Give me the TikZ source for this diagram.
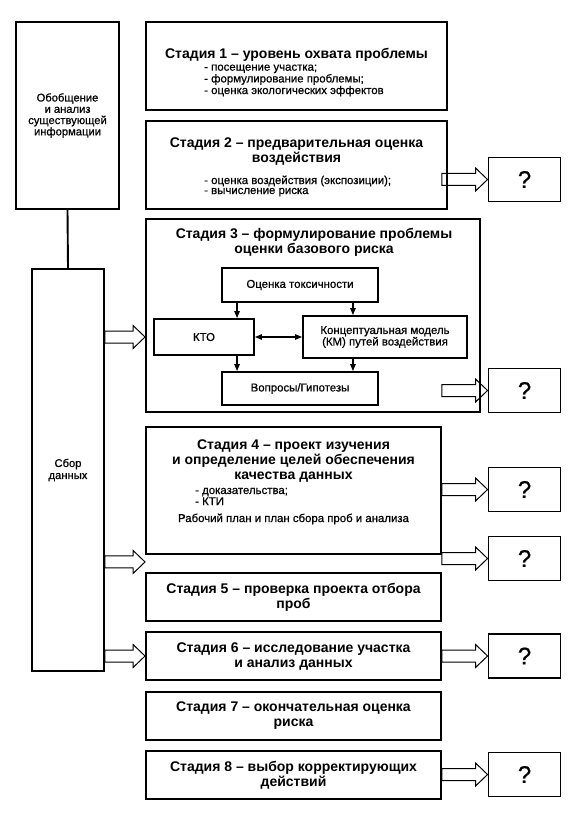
\documentclass[tikz,border=0pt]{standalone}
\usepackage{fontspec}
\setmainfont{Liberation Sans}
\newfontfamily\darkfont[FakeBold=0.7]{Liberation Sans}
\usetikzlibrary{arrows.meta,calc}
\newcommand\titlefnt{\fontsize{14}{15}\selectfont\bfseries}
\newcommand\bodyfnt{\darkfont\fontsize{11.4}{10}\selectfont}
\newcommand\qfnt{\darkfont\fontsize{24}{26}\selectfont}
\newcommand\fatarr[2]{\draw[fat] let \p1=(#1), \p2=(#2) in
  (\x1,\y1+6pt) -- (\x2-12pt,\y1+6pt) -- (\x2-12pt,\y1+11.5pt) -- (\x2,\y1)
  -- (\x2-12pt,\y1-11.5pt) -- (\x2-12pt,\y1-6pt) -- (\x1,\y1-6pt) -- cycle;}
\begin{document}
\begin{tikzpicture}[x=1pt,y=-1pt,
  box/.style={draw, line width=1.9pt, inner sep=0pt},
  stagebox/.style={box, minimum width=295pt},
  qbox/.style={box, minimum width=72pt, minimum height=44pt, font=\qfnt},
  thinarr/.style={line width=1.2pt, -{Triangle[length=7pt,width=5.5pt]}},
  fat/.style={line width=1pt, line join=miter},
  txt/.style={inner sep=0pt, align=center},
]
\useasboundingbox (0,0) rectangle (571,813);
% left column
\node[box, minimum width=103pt, minimum height=187pt, align=center, font=\darkfont\fontsize{11.2}{11.3}\selectfont] (info) at (67.5,115.5) {Обобщение\\и анализ\\существующей\\информации};
\node[box, minimum width=72pt, minimum height=402pt, align=center, font=\darkfont\fontsize{11.2}{12}\selectfont] (sbor) at (68,470) {Сбор\\данных};
\draw[line width=1.9pt] (info.south) -- (sbor.north);
% stages
\node[box, minimum width=301pt, minimum height=88pt] (s1) at (296.5,66) {};
\node[box, minimum width=301pt, minimum height=88pt] (s2) at (296.5,165) {};
\node[box, minimum width=334pt, minimum height=193pt] (s3) at (313,315.5) {};
\node[stagebox, minimum height=127pt] (s4) at (293.5,490.5) {};
\node[stagebox, minimum height=48pt] (s5) at (293.5,597) {};
\node[stagebox, minimum height=48pt] (s6) at (293.5,656) {};
\node[stagebox, minimum height=48pt] (s7) at (293.5,716) {};
\node[stagebox, minimum height=48pt] (s8) at (293.5,775) {};
% stage texts
\node[txt, font=\titlefnt] (t1) at (296.5,55) {Стадия 1 – уровень охвата проблемы};
\node[txt, align=left, anchor=west, font=\bodyfnt] (b1) at (204,80.5) {- посещение участка;\\- формулирование проблемы;\\- оценка экологических эффектов};
\node[txt, font=\titlefnt] (t2) at (296.5,151.5) {Стадия 2 – предварительная оценка\\воздействия};
\node[txt, align=left, anchor=west, font=\bodyfnt] (b2) at (204,186) {- оценка воздействия (экспозиции);\\- вычисление риска};
\node[txt, font=\titlefnt] (t3) at (314,242) {Стадия 3 – формулирование проблемы\\оценки базового риска};
\node[txt, font=\titlefnt] (t4) at (293.5,461) {Стадия 4 – проект изучения\\и определение целей обеспечения\\качества данных};
\node[txt, align=left, anchor=west, font=\bodyfnt] (b4) at (195,496.5) {- доказательства;\\- КТИ};
\node[txt, font=\bodyfnt] (p4) at (293.5,519) {Рабочий план и план сбора проб и анализа};
\node[txt, font=\titlefnt] (t5) at (293.5,597) {Стадия 5 – проверка проекта отбора\\проб};
\node[txt, font=\titlefnt] (t6) at (293.5,656) {Стадия 6 – исследование участка\\и анализ данных};
\node[txt, font=\titlefnt] (t7) at (293.5,716) {Стадия 7 – окончательная оценка\\риска};
\node[txt, font=\titlefnt] (t8) at (293.5,775) {Стадия 8 – выбор корректирующих\\действий};
% stage 3 inner
\node[box, minimum width=156pt, minimum height=34pt, font=\bodyfnt] (tox) at (300,285) {Оценка токсичности};
\node[box, minimum width=100pt, minimum height=36pt, font=\bodyfnt] (kto) at (204,337) {КТО};
\node[box, minimum width=164pt, minimum height=42pt, align=center, font=\darkfont\fontsize{11.4}{11.5}\selectfont] (km) at (385,337) {Концептуальная модель\\(КМ) путей воздействия};
\node[box, minimum width=156pt, minimum height=33pt, font=\bodyfnt] (vop) at (300,388.5) {Вопросы/Гипотезы};
\path ($(tox.south west)+(16,0)$) coordinate (a1);
\path ($(tox.south east)+(-26,0)$) coordinate (a2);
\draw[thinarr] (a1) -- (a1 |- kto.north);
\draw[thinarr] (a2) -- (a2 |- km.north);
\draw[thinarr] (a1 |- kto.south) -- (a1 |- vop.north);
\draw[thinarr] (a2 |- km.south) -- (a2 |- vop.north);
\draw[thinarr, {Triangle[length=7pt,width=5.5pt]}-{Triangle[length=7pt,width=5.5pt]}] (kto.east) -- (kto.east -| km.west);
% question boxes
\node[qbox] (q1) at (524.5,179.5) {?};
\node[qbox] (q2) at (524.5,390.5) {?};
\node[qbox] (q3) at (524.5,489.5) {?};
\node[qbox] (q4) at (524.5,558.5) {?};
\node[qbox] (q5) at (524.5,656) {?};
\node[qbox] (q6) at (524.5,774.5) {?};
% fat arrows from data collection
\path (s4.south west) ++(0,7) coordinate (gap);
\fatarr{sbor.east |- kto.west}{s3.west |- kto.west}
\fatarr{sbor.east |- gap}{gap}
\fatarr{sbor.east |- s6.west}{s6.west}
% fat arrows to question boxes
\fatarr{s4.east |- q1.west}{q1.west}
\fatarr{s4.east |- q2.west}{q2.west}
\fatarr{s4.east |- q3.west}{q3.west}
\fatarr{s4.east |- q4.west}{q4.west}
\fatarr{s6.east |- q5.west}{q5.west}
\fatarr{s8.east |- q6.west}{q6.west}
\end{tikzpicture}
\end{document}
